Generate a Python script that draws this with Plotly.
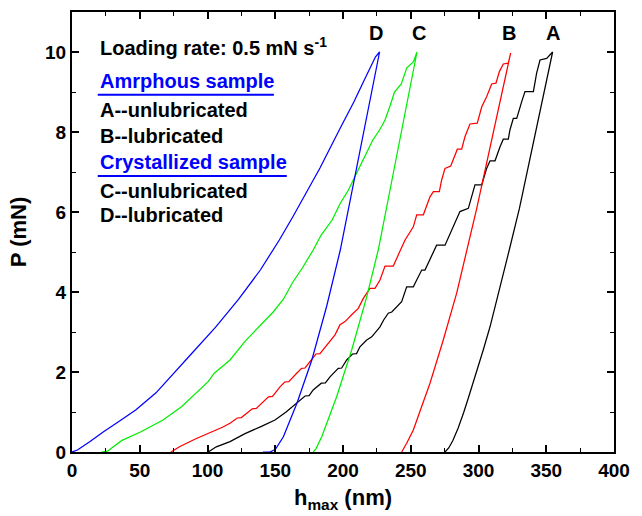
import plotly.graph_objects as go

# Load-displacement curves (h in nm, P in mN), loading then unloading branch
# A: amorphous, unlubricated
a_load_h = [100.5, 106.5, 116.6, 127.7, 139.8, 149.8, 158.0, 165.8, 172.0, 175.0, 178.0, 184.0,
            187.0, 190.4, 196.5, 199.0, 202.7, 207.0, 210.0, 212.5, 217.5, 221.2, 224.0, 227.3,
            230.0, 233.4, 236.0, 239.6, 243.3, 247.0, 251.9, 254.4, 258.1, 260.5, 266.7,
            269.1, 275.3, 280.2, 286.3, 292.5, 297.4, 302.4, 306.0, 308.5, 312.2, 315.9, 318.3,
            322.0, 323.2, 325.7, 328.2, 331.9, 334.3, 340.5, 342.9, 345.4, 350.3, 354.7]
a_load_p = [0.0, 0.13, 0.26, 0.46, 0.64, 0.80, 1.00, 1.22, 1.40, 1.41, 1.55, 1.72,
            1.73, 1.88, 2.09, 2.10, 2.30, 2.45, 2.46, 2.63, 2.80, 2.88, 3.00, 3.13,
            3.30, 3.47, 3.50, 3.63, 3.76, 4.13, 4.13, 4.30, 4.55, 4.55, 5.01,
            5.17, 5.17, 5.55, 6.01, 6.09, 6.68, 6.68, 7.09, 7.28, 7.28, 7.63, 7.82,
            7.82, 8.05, 8.34, 8.34, 8.76, 9.01, 9.01, 9.47, 9.80, 9.84, 10.0]
a_unload_h = [354.7, 330.2, 322.7, 315.9, 312.2, 308.5, 303.5, 298.7, 292.5, 289.0, 285.0,
              281.0, 278.0, 275.3]
a_unload_p = [10.0, 6.09, 5.05, 4.13, 3.63, 3.13, 2.55, 2.00, 1.35, 0.98, 0.60,
              0.28, 0.10, 0.0]

# B: amorphous, lubricated
b_load_h = [73.0, 79.3, 91.4, 100.5, 108.0, 111.0, 116.6, 122.0, 125.0, 129.0, 133.0, 136.0,
            141.2, 145.0, 148.0, 153.5, 157.0, 160.0, 165.8, 169.5, 172.0, 176.9, 180.0, 183.0,
            187.0, 190.4, 194.1, 197.8, 201.5, 206.4, 211.3, 215.0, 219.9,
            223.6, 227.3, 231.0, 237.1, 239.6, 245.8, 251.9, 254.4, 259.3, 261.8, 264.2, 266.7,
            271.1, 272.8, 275.3, 279.5, 282.7, 284.4, 287.6, 290.0, 293.7, 299.1, 302.4, 306.0,
            309.7, 312.9, 315.4, 318.3, 322.0, 323.7]
b_load_p = [0.0, 0.13, 0.33, 0.46, 0.58, 0.62, 0.72, 0.85, 0.86, 0.97, 1.08, 1.09,
            1.26, 1.38, 1.39, 1.63, 1.75, 1.76, 1.97, 2.09, 2.10, 2.30, 2.45, 2.46,
            2.63, 2.76, 2.93, 3.18, 3.26, 3.43, 3.59, 3.84, 4.09,
            4.09, 4.30, 4.65, 4.65, 4.84, 5.30, 5.63, 5.93, 5.93, 6.15, 6.38, 6.51,
            6.51, 6.80, 7.09, 7.15, 7.43, 7.57, 7.57, 7.88, 8.20, 8.22, 8.63, 8.88,
            9.20, 9.22, 9.51, 9.70, 9.72, 9.97]
b_unload_h = [323.7, 298.7, 291.3, 283.9, 274.0, 264.2, 258.0, 251.9, 247.0, 243.3]
b_unload_p = [9.97, 6.09, 5.05, 3.97, 2.80, 1.72, 1.13, 0.55, 0.22, 0.0]

# C: crystallized, unlubricated
c_load_h = [21.8, 26.3, 30.0, 36.9, 50.5, 67.2, 80.8, 94.4, 100.5, 105.0, 116.6, 128.0,
            141.0, 148.5, 156.0, 163.0, 170.0, 178.0, 184.0, 192.0, 198.0, 204.0, 209.0,
            215.0, 222.0, 227.0, 231.0, 235.0, 238.0, 243.0, 247.0, 252.0, 254.6]
c_load_p = [0.0, 0.02, 0.12, 0.29, 0.50, 0.80, 1.13, 1.55, 1.76, 1.97, 2.30, 2.78,
            3.22, 3.50, 3.82, 4.25, 4.60, 5.05, 5.43, 5.80, 6.22, 6.55, 6.90,
            7.30, 7.80, 8.05, 8.30, 8.68, 9.00, 9.20, 9.60, 9.76, 10.0]
c_unload_h = [254.6, 234.7, 226.0, 217.5, 206.4, 195.3, 184.3, 180.0, 178.0]
c_unload_p = [10.0, 6.55, 5.05, 3.88, 2.55, 1.38, 0.38, 0.08, 0.0]

# D: crystallized, lubricated
d_load_h = [0.0, 4.0, 13.3, 23.0, 35.4, 47.0, 62.0, 73.0, 88.0, 106.0, 116.6, 123.0, 139.0,
            148.6, 153.0, 163.0, 174.0, 183.0, 198.0, 208.0, 215.0, 224.0, 227.0]
d_load_p = [0.0, 0.05, 0.26, 0.50, 0.78, 1.05, 1.48, 1.88, 2.45, 3.12, 3.55, 3.82, 4.55,
            5.05, 5.30, 5.88, 6.55, 7.10, 8.10, 8.75, 9.25, 9.88, 10.0]
d_unload_h = [227.0, 206.5, 198.0, 188.0, 177.0, 166.0, 156.0, 150.0, 146.0, 141.0]
d_unload_p = [10.0, 6.50, 5.05, 3.65, 2.30, 1.22, 0.38, 0.06, 0.0, 0.0]

curves = [
    ("A", a_load_h + a_unload_h, a_load_p + a_unload_p, "#000000", 355.0),
    ("B", b_load_h + b_unload_h, b_load_p + b_unload_p, "#ff0000", 322.5),
    ("C", c_load_h + c_unload_h, c_load_p + c_unload_p, "#00ee00", 256.0),
    ("D", d_load_h + d_unload_h, d_load_p + d_unload_p, "#0000ff", 224.5),
]

x_ticks = [0, 50, 100, 150, 200, 250, 300, 350, 400]
y_ticks = [0, 2, 4, 6, 8, 10]

FONT = "Liberation Sans, Arial, sans-serif"

fig = go.Figure()
for name, h, p, color, _ in curves:
    fig.add_trace(go.Scatter(x=h, y=p, mode="lines", name=name,
                             line=dict(color=color, width=1.25), showlegend=False))

annotations = []
# curve letters above the peak load
for name, h, p, color, lx in curves:
    annotations.append(dict(x=lx, y=10.47, xref="x", yref="y", text=f"<b>{name}</b>",
                            showarrow=False, font=dict(size=20, color="#000000", family=FONT),
                            xanchor="center", yanchor="middle"))

# key text block
key_lines = [
    ("Loading rate: 0.5 mN s<sup>-1</sup>", 10.13, "#000000"),
    ("Amrphous sample", 9.28, "#0000ff"),
    ("A--unlubricated", 8.55, "#000000"),
    ("B--lubricated", 7.90, "#000000"),
    ("Crystallized sample", 7.25, "#0000ff"),
    ("C--unlubricated", 6.53, "#000000"),
    ("D--lubricated", 5.93, "#000000"),
]
for txt, yv, col in key_lines:
    annotations.append(dict(x=19.0, y=yv, xref="x", yref="y", text=f"<b>{txt}</b>",
                            showarrow=False, font=dict(size=20, color=col, family=FONT),
                            xanchor="left", yanchor="middle"))

shapes = [
    dict(type="line", xref="x", yref="y", x0=19.0, x1=149.0, y0=8.93, y1=8.93,
         line=dict(color="#0000ff", width=2)),
    dict(type="line", xref="x", yref="y", x0=19.0, x1=158.5, y0=6.90, y1=6.90,
         line=dict(color="#0000ff", width=2)),
]

axis_common = dict(
    showline=True, linecolor="#000000", linewidth=2, mirror="allticks",
    ticks="inside", ticklen=7, tickwidth=1.5, tickcolor="#000000",
    showgrid=False, zeroline=False,
    tickfont=dict(size=19, color="#000000", family=FONT, weight="bold"),
)

fig.update_layout(
    width=642, height=516,
    margin=dict(l=72, r=28, t=12, b=64, autoexpand=False),
    paper_bgcolor="#ffffff", plot_bgcolor="#ffffff",
    xaxis=dict(range=[0, 400], tickvals=x_ticks, ticktext=[str(v) for v in x_ticks],
               minor=dict(dtick=25, ticks="inside", ticklen=4, tickwidth=1.2, tickcolor="#000000"),
               title=dict(text="<b>h<sub>max</sub> (nm)</b>", standoff=10,
                          font=dict(size=22, color="#000000", family=FONT)),
               **axis_common),
    yaxis=dict(range=[0, 11], tickvals=y_ticks, ticktext=[str(v) for v in y_ticks],
               minor=dict(dtick=1, ticks="inside", ticklen=4, tickwidth=1.2, tickcolor="#000000"),
               title=dict(text="<b>P (mN)</b>", standoff=12,
                          font=dict(size=22, color="#000000", family=FONT)),
               **axis_common),
    annotations=annotations,
    shapes=shapes,
)

fig.write_html("out.html")
